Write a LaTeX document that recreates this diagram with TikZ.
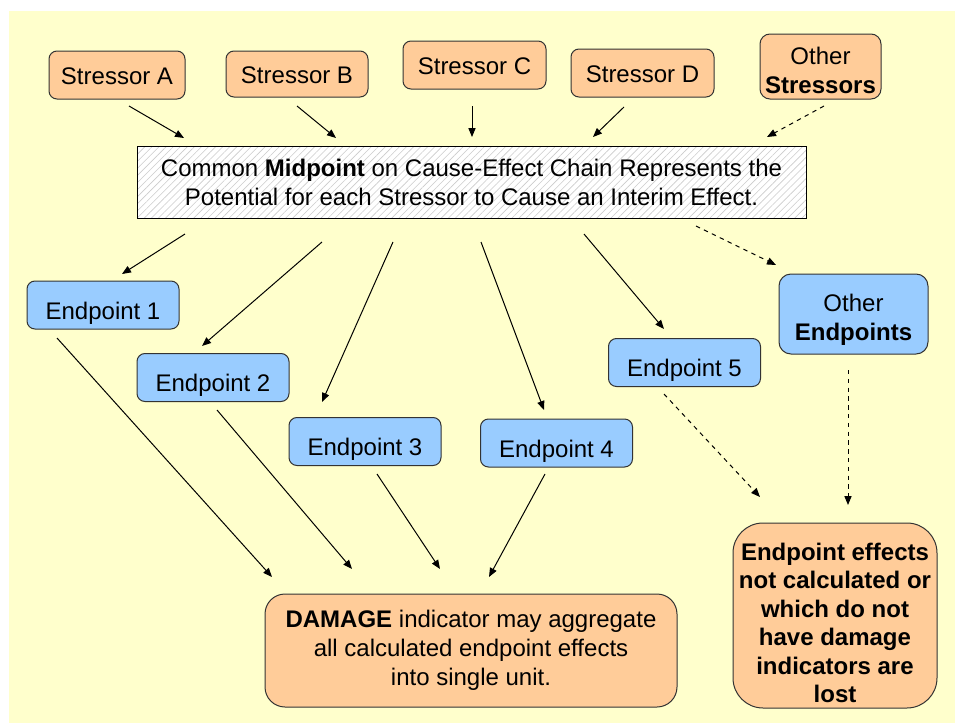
\documentclass[tikz,border=0pt]{standalone}
\usepackage{fontspec}
\setmainfont{Liberation Sans}
\usetikzlibrary{arrows.meta,patterns.meta}
\definecolor{bgyellow}{HTML}{FFFFCC}
\definecolor{stressorfill}{HTML}{FFCC99}
\definecolor{endptfill}{HTML}{99CCFF}

\begin{document}
\begin{tikzpicture}[x=0.5pt,y=-0.5pt,font=\fontsize{12}{14.5}\selectfont,
  box/.style={draw=black!80,line width=0.5pt,align=center,inner sep=0pt},
  stressor/.style={box,fill=stressorfill,rounded corners=4pt,minimum height=24pt,text height=9pt,text depth=0pt},
  endpt/.style={box,fill=endptfill,rounded corners=4pt,minimum width=76pt,minimum height=24pt,text height=14pt,text depth=0pt},
  link/.style={line width=0.5pt,-{Triangle[length=4.5pt,width=3.6pt]}},
  maybe/.style={link,dash pattern=on 2.2pt off 2.2pt}]
  \useasboundingbox (0,0) rectangle (955,723);
  \fill[bgyellow] (9,11) rectangle (955,723);

  % stressors
  \node[stressor,minimum width=68pt] (sA) at (117,75) {Stressor A};
  \node[stressor,minimum width=71pt,minimum height=23pt] (sB) at (297,74) {Stressor B};
  \node[stressor,minimum width=71.5pt] (sC) at (474.5,65) {Stressor C};
  \node[stressor,minimum width=71.5pt] (sD) at (642.5,73) {Stressor D};
  \node[box,fill=stressorfill,rounded corners=5pt,minimum width=60.5pt,minimum height=32.5pt] (sO)
    at (820.5,66.5) {\rule{0pt}{12.3pt}Other\\\textbf{Stressors}};

  % midpoint
  \node[box,draw=black,minimum width=334.5pt,minimum height=36pt,preaction={fill=white},
    pattern={Lines[angle=45,distance=2.5pt,line width=0.3pt]},pattern color=black!20] (mid)
    at (471.5,182) {Common \textbf{Midpoint} on Cause-Effect Chain Represents the\\
    Potential for each Stressor to Cause an Interim Effect.};

  % endpoints
  \foreach \n/\x/\y in {1/103/305, 2/213/377.5, 3/365/441.5, 4/556.5/443, 5/684.5/362.5}
    \node[endpt] (e\n) at (\x,\y) {Endpoint \n};
  \node[box,fill=endptfill,rounded corners=6pt,minimum width=74.5pt,minimum height=40pt] (eO)
    at (853.5,314) {\rule{0pt}{14.8pt}Other\\\textbf{Endpoints}};

  % results
  \node[box,fill=stressorfill,rounded corners=10pt,minimum width=206pt,minimum height=56.5pt] (dmg)
    at (471,650.5) {\textbf{DAMAGE} indicator may aggregate\\all calculated endpoint effects\\into single unit.};
  \node[box,fill=stressorfill,rounded corners=15pt,minimum width=102pt,minimum height=92.5pt,
    font=\fontsize{12}{14.25}\selectfont\bfseries] (lost)
    at (835,615.5) {\rule{0pt}{16pt}Endpoint effects\\not calculated or\\which do not\\have damage\\indicators are\\lost};

  % arrow ends
  \foreach \n/\x/\y in {sA-out/129/106, sA-in/184/138, sB-out/297/106, sB-in/336/138,
      sC-out/472/106, sC-in/472/137, sD-out/624/107, sD-in/593/137, sO-out/824/106, sO-in/767/137,
      m1-out/185/234, e1-in/122/274, m2-out/322/242, e2-in/202/346, m3-out/393/242, e3-in/322/402,
      m4-out/481/242, e4-in/544/410, m5-out/584/234, e5-in/664/329, mO-out/696/226, eO-in/776/265,
      e1-out/57/338, d1-in/272/577, e2-out/217/410, d2-in/352/569, e3-out/377/474, d3-in/440/569,
      e4-out/545/474, d4-in/489/577, e5-out/664/394, l5-in/760/497, eO-out/848/370, lO-in/848/505}
    \coordinate (\n) at (\x,\y);

  \foreach \s/\t in {sA-out/sA-in, sB-out/sB-in, sC-out/sC-in, sD-out/sD-in,
      m1-out/e1-in, m2-out/e2-in, m3-out/e3-in, m4-out/e4-in, m5-out/e5-in,
      e1-out/d1-in, e2-out/d2-in, e3-out/d3-in, e4-out/d4-in}
    \draw[link] (\s) -- (\t);
  \foreach \s/\t in {sO-out/sO-in, mO-out/eO-in, e5-out/l5-in, eO-out/lO-in}
    \draw[maybe] (\s) -- (\t);
\end{tikzpicture}
\end{document}
